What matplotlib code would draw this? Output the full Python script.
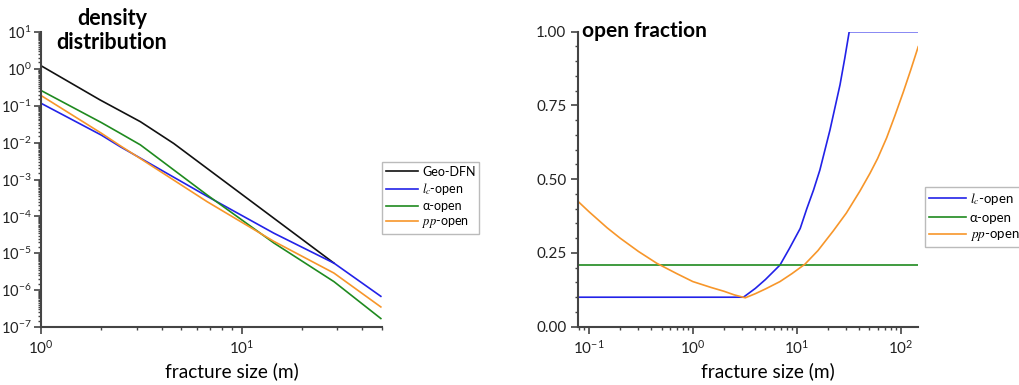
import matplotlib
matplotlib.use("Agg")
import matplotlib.pyplot as plt
from matplotlib.ticker import (FixedLocator, LogLocator, MultipleLocator,
                               FormatStrFormatter, NullFormatter)

plt.rcParams["font.family"] = ["Lato", "DejaVu Sans"]
plt.rcParams["mathtext.fontset"] = "stix"

# density distribution (log-log)
size_geo = [1.0, 1.97, 3.13, 4.59, 28.9]
dens_geo = [1.22, 0.144, 0.037, 9.5e-3, 5.4e-6]

size_open = [1.0, 2.0, 2.48, 3.13, 6.74, 14.5, 28.9, 49.5]
dens_lc = [0.117, 1.6e-2, 7.8e-3, 3.8e-3, 3.5e-4, 3.5e-5, 5.4e-6, 6.8e-7]
dens_alpha = [0.26, 3.5e-2, 1.8e-2, 8.7e-3, 3.8e-4, 1.9e-5, 1.7e-6, 1.7e-7]
dens_pp = [0.19, 1.8e-2, 8.3e-3, 3.7e-3, 2.5e-4, 2.1e-5, 2.9e-6, 3.5e-7]
decades = [1e-7, 1e-6, 1e-5, 1e-4, 1e-3, 1e-2, 1e-1, 1e0, 1e1]

# open fraction vs fracture size
size_lc = [0.079, 3.07, 4.0, 5.0, 6.9, 8.5, 10.8, 12.5, 14.5, 16.7, 20.9, 26.1, 29.0, 32.0, 148.0]
frac_lc = [0.10, 0.10, 0.13, 0.16, 0.209, 0.265, 0.333, 0.40, 0.463, 0.531, 0.667, 0.82, 0.91, 1.0, 1.0]

size_alpha = [0.079, 148.0]
frac_alpha = [0.21, 0.21]

size_pp = [0.079, 0.1, 0.15, 0.2, 0.3, 0.45, 0.7, 1.0, 1.5, 2.0, 2.5, 3.2,
           4.0, 5.0, 6.9, 9.0, 12.0, 16.0, 22.5, 30.0, 40.6, 50.7, 60.0, 73.3,
           88.0, 106.0, 125.0, 147.6]
frac_pp = [0.424, 0.39, 0.335, 0.30, 0.255, 0.215, 0.18, 0.153, 0.133, 0.12, 0.108, 0.098,
           0.112, 0.128, 0.153, 0.18, 0.212, 0.258, 0.325, 0.385, 0.46, 0.52, 0.57, 0.64,
           0.715, 0.795, 0.87, 0.949]

C_GEO = "#111111"
C_LC = "#2222e8"
C_ALPHA = "#1f8a1f"
C_PP = "#f7962a"
SPINE = "#444444"

fig = plt.figure(figsize=(10.19, 3.85), dpi=100)
ax1 = fig.add_axes([0.0402, 0.1506, 0.3344, 0.7663])
ax2 = fig.add_axes([0.5675, 0.1514, 0.3337, 0.7663])


def style_axes(ax):
    for side in ("top", "right"):
        ax.spines[side].set_visible(False)
    for side in ("left", "bottom"):
        ax.spines[side].set_color(SPINE)
        ax.spines[side].set_linewidth(1.5)
    ax.tick_params(which="major", direction="out", length=5, width=1.2,
                   color=SPINE, labelsize=11, labelcolor="#222222")
    ax.tick_params(which="minor", direction="out", length=2.5, width=1.0, color=SPINE)


# left: density distribution
ax1.plot(size_geo, dens_geo, color=C_GEO, lw=1.2, label="Geo-DFN")
ax1.plot(size_open, dens_lc, color=C_LC, lw=1.2, label=r"$l_c$-open")
ax1.plot(size_open, dens_alpha, color=C_ALPHA, lw=1.2, label="α-open")
ax1.plot(size_open, dens_pp, color=C_PP, lw=1.2, label=r"$pp$-open")
ax1.set_xscale("log")
ax1.set_yscale("log")
ax1.set_xlim(1, 50)
ax1.set_ylim(1e-7, 10)
ax1.yaxis.set_major_locator(FixedLocator(decades))
ax1.yaxis.set_minor_locator(LogLocator(base=10, subs=[i / 10 for i in range(1, 10)] +
                                       [i / 10 + 0.05 for i in range(1, 10)], numticks=20))
ax1.yaxis.set_minor_formatter(NullFormatter())
ax1.xaxis.set_minor_formatter(NullFormatter())
style_axes(ax1)
ax1.tick_params(axis="y", which="major", labelsize=10.5, pad=2)
ax1.set_xlabel("fracture size (m)", fontsize=13.7)
ax1.xaxis.set_label_coords(0.56, -0.12)
fig.legend(handles=ax1.get_lines(), loc="upper left", bbox_to_anchor=(0.375, 0.579),
           fontsize=9, frameon=True, fancybox=False, edgecolor="#aaaaaa",
           handlelength=2.6, handletextpad=0.3, borderpad=0.3, labelspacing=0.25,
           borderaxespad=0)
fig.text(0.11, 0.98, "density\ndistribution", ha="center", va="top",
         fontsize=15.5, fontweight="bold", linespacing=1.2)

# right: open fraction
ax2.plot(size_lc, frac_lc, color=C_LC, lw=1.2, label=r"$l_c$-open")
ax2.plot(size_alpha, frac_alpha, color=C_ALPHA, lw=1.2, label="α-open")
ax2.plot(size_pp, frac_pp, color=C_PP, lw=1.2, label=r"$pp$-open")
ax2.set_xscale("log")
ax2.set_xlim(0.079, 148)
ax2.set_ylim(0, 1)
ax2.yaxis.set_major_locator(MultipleLocator(0.25))
ax2.yaxis.set_minor_locator(MultipleLocator(0.05))
ax2.yaxis.set_major_formatter(FormatStrFormatter("%.2f"))
ax2.xaxis.set_minor_formatter(NullFormatter())
style_axes(ax2)
ax2.set_xlabel("fracture size (m)", fontsize=13.7)
ax2.xaxis.set_label_coords(0.558, -0.12)
fig.legend(handles=ax2.get_lines(), loc="upper left", bbox_to_anchor=(0.9077, 0.5143),
           fontsize=9.5, frameon=True, fancybox=False, edgecolor="#aaaaaa",
           handlelength=2.8, handletextpad=0.3, borderpad=0.3, labelspacing=0.35,
           borderaxespad=0)
fig.text(0.5715, 1 - 31 / 385, "open fraction", ha="left", va="center",
         fontsize=15, fontweight="bold")

fig.savefig("out.png", dpi=100)
